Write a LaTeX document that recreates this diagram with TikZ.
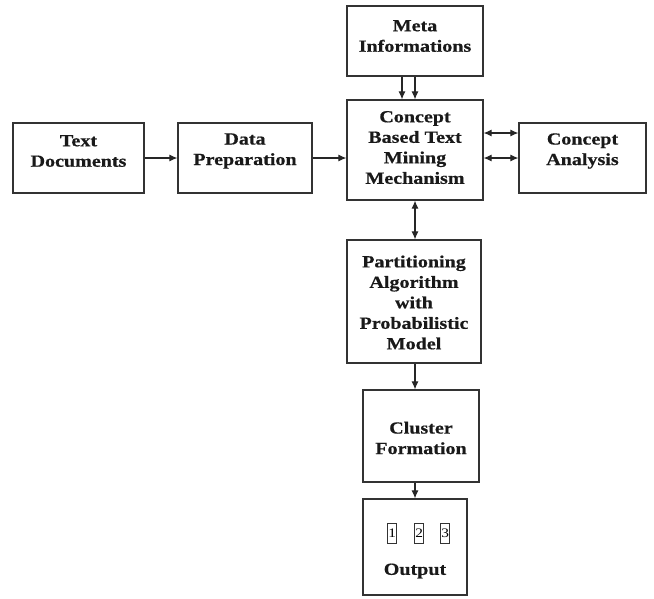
\documentclass[tikz,border=0pt]{standalone}
\usepackage{fontspec}
\setmainfont{Liberation Serif}[FakeStretch=1.18, BoldFeatures={FakeBold=0.6}]
\usetikzlibrary{arrows.meta}
\tikzset{>={Latex[length=8pt,width=7pt]},
  box/.style={draw=black!80, line width=1.2pt, inner sep=0pt},
  txt/.style={align=center, font=\fontsize{17}{20.5}\selectfont\bfseries, text=black!90},
  link/.style={draw=black!85, line width=1.1pt, ->},
  both/.style={draw=black!85, line width=1.1pt, <->},
  slot/.style={draw=black!80, line width=0.9pt, minimum width=9, minimum height=20, inner sep=0pt}}

\begin{document}
\begin{tikzpicture}[x=1pt, y=-1pt]
  \useasboundingbox (0,0) rectangle (654,598);
  % boxes
  \node[box, minimum width=131, minimum height=70] (docs) at (78.5,158) {};
  \node[box, minimum width=134, minimum height=70] (prep) at (245,158) {};
  \node[box, minimum width=136, minimum height=100] (cbtm) at (415,150) {};
  \node[box, minimum width=136, minimum height=70] (meta) at (415,41) {};
  \node[box, minimum width=127, minimum height=70] (anal) at (582.5,158) {};
  \node[box, minimum width=134, minimum height=123] (part) at (414,301.5) {};
  \node[box, minimum width=116, minimum height=92] (clus) at (421,436) {};
  \node[box, minimum width=104, minimum height=96] (outp) at (415,547) {};
  % texts
  \node[txt] at ([yshift=7pt]docs.center) {Text\\Documents};
  \node[txt] at ([yshift=7pt]prep.center) {Data\\Preparation};
  \node[txt] at ([yshift=2.5pt]cbtm.center) {Concept\\Based Text\\Mining\\Mechanism};
  \node[txt] at ([yshift=5pt]meta.center) {Meta\\Informations};
  \node[txt] at ([yshift=7pt]anal.center) {Concept\\Analysis};
  \node[txt] at ([yshift=-1pt]part.center) {Partitioning\\Algorithm\\with\\Probabilistic\\Model};
  \node[txt] at ([yshift=-2pt]clus.center) {Cluster\\Formation};
  \node[txt] at (415,571) {Output};
  % output slots
  \foreach \i/\x in {1/391.5,2/418.5,3/444.5}
    \node[slot, font=\fontsize{13}{13}\selectfont, text width=9pt, align=right] (s\i) at (\x,533) {\i};
  % connectors
  \draw[link] (docs) -- (prep);
  \draw[link] (prep.east |- docs) -- (cbtm.west |- docs);
  \draw[link] ([xshift=-13pt]meta.south) -- ([xshift=-13pt]cbtm.north);
  \draw[link] (meta.south) -- (cbtm.north);
  \draw[both] (cbtm.east |- 0,133) -- (anal.west |- 0,133);
  \draw[both] (cbtm.east |- anal) -- (anal.west);
  \draw[both] (cbtm.south) -- (cbtm.south |- part.north);
  \draw[link] (part.south -| cbtm) -- (cbtm |- clus.north);
  \draw[link] (clus.south -| cbtm) -- (outp.north);
\end{tikzpicture}
\end{document}
